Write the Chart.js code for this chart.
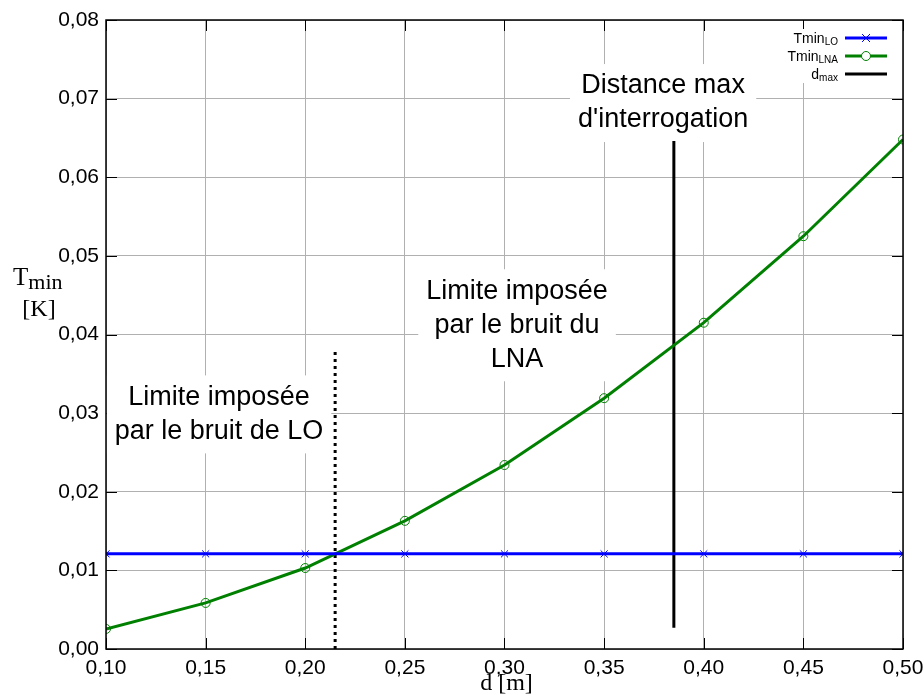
<!DOCTYPE html>
<html>
<head>
<meta charset="utf-8">
<script src="https://cdn.jsdelivr.net/npm/chart.js@4/dist/chart.umd.min.js"></script>
<style>
html, body { margin: 0; padding: 0; background: #fff; }
#wrap { width: 924px; height: 695px; }
</style>
</head>
<body>
<div id="wrap"><canvas id="myChart"></canvas></div>
<script>
// data
var distances = [0.10, 0.15, 0.20, 0.25, 0.30, 0.35, 0.40, 0.45, 0.50];
var tminLO = [0.0121, 0.0121, 0.0121, 0.0121, 0.0121, 0.0121, 0.0121, 0.0121, 0.0121];
var tminLNA = [0.00255, 0.00586, 0.0103, 0.0163, 0.0234, 0.0319, 0.0415, 0.0525, 0.0648];
var dmaxX = [0.385, 0.385];
var dmaxY = [0.0027, 0.0646];
var loLimitX = [0.215, 0.215];
var loLimitY = [0.0, 0.038];
var xTickValues = [0.10, 0.15, 0.20, 0.25, 0.30, 0.35, 0.40, 0.45, 0.50];
var yTickValues = [0.00, 0.01, 0.02, 0.03, 0.04, 0.05, 0.06, 0.07, 0.08];

function pts(xs, ys) {
    return xs.map(function (x, i) { return { x: x, y: ys[i] }; });
}
function fmt(v) {
    return v.toFixed(2).replace('.', ',');
}

var SANS = '"Liberation Sans", Arial, sans-serif';
var SERIF = '"Liberation Serif", "Times New Roman", serif';

// text boxes: centre x/y of first line in data units
var notes = [
    { x: 0.1567, y: 0.0320, lines: ['Limite imposée', 'par le bruit de LO'] },
    { x: 0.3063, y: 0.0455, lines: ['Limite imposée', 'par le bruit du', 'LNA'] },
    { x: 0.3796, y: 0.0716, lines: ['Distance max', "d'interrogation"] }
];

var decorPlugin = {
    id: 'decor',
    beforeDatasetsDraw: function (chart) {
        var ctx = chart.ctx, xs = chart.scales.x, ys = chart.scales.y, a = chart.chartArea;
        ctx.save();
        // inward black ticks
        ctx.strokeStyle = '#000';
        ctx.lineWidth = 1;
        yTickValues.forEach(function (v) {
            var py = Math.round(ys.getPixelForValue(v)) + 0.5;
            ctx.beginPath();
            ctx.moveTo(a.left, py); ctx.lineTo(a.left + 11, py);
            ctx.moveTo(a.right, py); ctx.lineTo(a.right - 11, py);
            ctx.stroke();
        });
        xTickValues.forEach(function (v) {
            var px = Math.round(xs.getPixelForValue(v)) + 0.5;
            ctx.beginPath();
            ctx.moveTo(px, a.bottom); ctx.lineTo(px, a.bottom - 11);
            ctx.moveTo(px, a.top); ctx.lineTo(px, a.top + 11);
            ctx.stroke();
        });
        // annotation boxes
        ctx.font = '27px ' + SANS;
        ctx.textAlign = 'center';
        ctx.textBaseline = 'middle';
        notes.forEach(function (n) {
            var cx = xs.getPixelForValue(n.x), cy = ys.getPixelForValue(n.y);
            var w = 0;
            n.lines.forEach(function (l) { w = Math.max(w, ctx.measureText(l).width); });
            var h = n.lines.length * 34;
            ctx.fillStyle = '#fff';
            ctx.fillRect(cx - w / 2 - 8, cy - 22, w + 16, h + 10);
            ctx.fillStyle = '#000';
            n.lines.forEach(function (l, i) { ctx.fillText(l, cx, cy + i * 34); });
        });
        ctx.restore();
    },
    afterDatasetsDraw: function (chart) {
        var ctx = chart.ctx, a = chart.chartArea;
        ctx.save();
        // frame
        ctx.strokeStyle = '#000';
        ctx.lineWidth = 1.5;
        ctx.strokeRect(a.left, a.top, a.right - a.left, a.bottom - a.top);
        // legend
        ctx.fillStyle = '#fff';
        ctx.fillRect(786, 29, a.right - 787, 54);
        var rows = [
            { t: 'Tmin', s: 'LO', c: '#0000ff', m: 'x' },
            { t: 'Tmin', s: 'LNA', c: '#008000', m: 'o' },
            { t: 'd', s: 'max', c: '#000', m: '' }
        ];
        rows.forEach(function (r, i) {
            var y = 38 + i * 18;
            ctx.font = '10px ' + SANS;
            var sw = ctx.measureText(r.s).width;
            ctx.fillStyle = '#000';
            ctx.textAlign = 'right';
            ctx.textBaseline = 'alphabetic';
            ctx.fillText(r.s, 838, y + 7);
            ctx.font = '14px ' + SANS;
            ctx.fillText(r.t, 838 - sw, y + 5);
            ctx.strokeStyle = r.c;
            ctx.lineWidth = 3;
            ctx.beginPath(); ctx.moveTo(845, y); ctx.lineTo(887, y); ctx.stroke();
            ctx.lineWidth = 1;
            if (r.m === 'x') {
                ctx.beginPath();
                ctx.moveTo(862, y - 4); ctx.lineTo(870, y + 4);
                ctx.moveTo(862, y + 4); ctx.lineTo(870, y - 4);
                ctx.stroke();
            } else if (r.m === 'o') {
                ctx.fillStyle = '#fff';
                ctx.beginPath(); ctx.arc(866, y, 4.5, 0, Math.PI * 2); ctx.fill(); ctx.stroke();
            }
        });
        ctx.restore();
    },
    afterDraw: function (chart) {
        var ctx = chart.ctx, a = chart.chartArea;
        ctx.save();
        ctx.fillStyle = '#000';
        ctx.textBaseline = 'alphabetic';
        // y title
        ctx.textAlign = 'left';
        ctx.font = '25px ' + SERIF;
        ctx.fillText('T', 13, 285);
        var tw = ctx.measureText('T').width;
        ctx.font = '22px ' + SERIF;
        ctx.fillText('min', 13 + tw, 289);
        ctx.textAlign = 'center';
        ctx.font = '24px ' + SERIF;
        ctx.fillText('[K]', 39, 316);
        // x title
        ctx.fillText('d [m]', (a.left + a.right) / 2 + 2, 690);
        ctx.restore();
    }
};

var ctx1 = document.getElementById('myChart').getContext('2d');

var myChart1 = new Chart(ctx1, {
    type: 'line',
    data: {
        datasets: [{
            label: 'TminLO',
            data: pts(distances, tminLO),
            borderColor: '#0000ff',
            borderWidth: 3,
            pointStyle: 'crossRot',
            pointRadius: 5,
            pointBorderWidth: 1,
            pointBorderColor: '#0000ff',
            tension: 0
        }, {
            label: 'TminLNA',
            data: pts(distances, tminLNA),
            borderColor: '#008000',
            borderWidth: 3,
            pointStyle: 'circle',
            pointRadius: 4.5,
            pointBorderWidth: 1,
            pointBorderColor: '#008000',
            pointBackgroundColor: 'rgba(0,0,0,0)',
            tension: 0
        }, {
            label: 'dmax',
            data: pts(dmaxX, dmaxY),
            borderColor: '#000',
            borderWidth: 3,
            pointRadius: 0
        }, {
            label: 'limite LO',
            data: pts(loLimitX, loLimitY),
            borderColor: '#000',
            borderWidth: 3,
            borderDash: [3, 4],
            pointRadius: 0
        }]
    },
    options: {
        responsive: true,
        maintainAspectRatio: false,
        animation: false,
        layout: { padding: { top: 20, right: 21, left: 0, bottom: 0 } },
        plugins: {
            legend: { display: false },
            tooltip: { enabled: false }
        },
        scales: {
            x: {
                type: 'linear',
                min: 0.1,
                max: 0.5,
                afterBuildTicks: function (s) { s.ticks = xTickValues.map(function (v) { return { value: v }; }); },
                afterFit: function (s) { s.height = 46; s.paddingLeft = 0; s.paddingRight = 0; },
                grid: { color: '#b0b0b0', lineWidth: 1, drawTicks: false },
                border: { display: false },
                ticks: {
                    padding: 7,
                    color: '#000',
                    font: { family: SANS, size: 21 },
                    callback: function (v) { return fmt(v); }
                }
            },
            y: {
                type: 'linear',
                min: 0,
                max: 0.08,
                afterBuildTicks: function (s) { s.ticks = yTickValues.map(function (v) { return { value: v }; }); },
                afterFit: function (s) { s.width = 106; s.paddingTop = 0; s.paddingBottom = 0; },
                grid: { color: '#b0b0b0', lineWidth: 1, drawTicks: false },
                border: { display: false },
                ticks: {
                    padding: 7,
                    color: '#000',
                    font: { family: SANS, size: 21 },
                    callback: function (v) { return fmt(v); }
                }
            }
        }
    },
    plugins: [decorPlugin]
});
</script>
</body>
</html>
